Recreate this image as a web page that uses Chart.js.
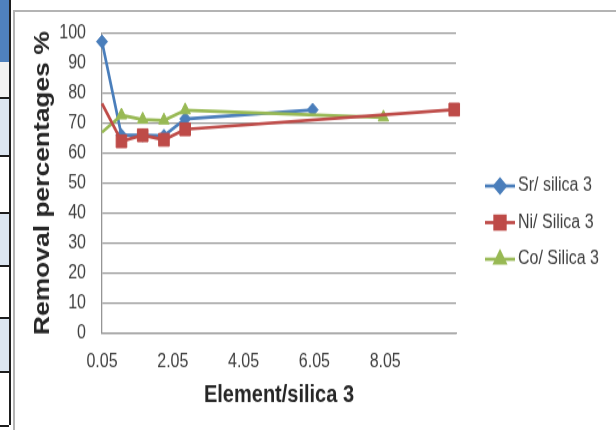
<!DOCTYPE html>
<html>
<head>
<meta charset="utf-8">
<script src="https://cdn.jsdelivr.net/npm/chart.js@4.4.1/dist/chart.umd.min.js"></script>
<style>
html, body { margin: 0; padding: 0; background: #fff; }
body { width: 616px; height: 430px; position: relative; overflow: hidden; font-family: "Liberation Sans", Arial, sans-serif; }
.strip { position: absolute; left: 0; width: 9px; border-right: 2px solid #1e1e1e; }
.row { position: absolute; left: 0; width: 9px; border-top: 2px solid #1e1e1e; }
#frame { position: absolute; left: 13px; top: 10px; right: -4px; bottom: -4px; border-left: 2px solid #b4b4b4; border-top: 2px solid #b4b4b4; }
#wrap { position: absolute; left: 0; top: 0; width: 616px; height: 358px; transform: scaleY(1.2); transform-origin: 0 0; }
</style>
</head>
<body>

<!-- bit of the spreadsheet showing on the left -->
<div class="strip" style="top:0;height:62px;background:#4f81bd;"></div>
<div class="strip" style="top:62px;height:35px;background:#f2f2f2;"></div>
<div class="row" style="top:97px;height:58px;background:#dce6f1;"></div>
<div class="row" style="top:155px;height:57px;background:#fff;"></div>
<div class="row" style="top:212px;height:53px;background:#dce6f1;"></div>
<div class="row" style="top:265px;height:52px;background:#fff;"></div>
<div class="row" style="top:317px;height:54px;background:#dce6f1;"></div>
<div class="row" style="top:371px;height:52px;background:#fff;border-bottom:2px solid #1e1e1e;"></div>
<div class="strip" style="top:97px;height:328px;background:transparent;"></div>

<div id="frame"></div>

<div id="wrap">
    <canvas id="removalChart"></canvas>
</div>

<script>
// ============================
// DATA
// ============================

const seriesNames = ['Sr/ silica 3', 'Ni/ Silica 3', 'Co/ Silica 3'];

const srX = [0.05, 0.6, 1.2, 1.8, 2.4, 6];
const srY = [97.3, 66, 66, 65.8, 71.5, 74.5];

const niX = [0.05, 0.6, 1.2, 1.8, 2.4, 10];
const niY = [76.6, 64, 66, 64.5, 68, 74.6];

const coX = [0.05, 0.6, 1.2, 1.8, 2.4, 8];
const coY = [67, 72.7, 71.3, 71, 74.4, 72];

const xTickLabels = [0.05, 2.05, 4.05, 6.05, 8.05];

const colors = ['#4a7ebb', '#be4b48', '#98b954'];

const toPoints = (xs, ys) => xs.map((x, i) => ({ x: x, y: ys[i] }));

const font = '"Liberation Sans", Arial, sans-serif';


// ============================
// LEGEND (right side)
// ============================

const sideLegend = {

    id: 'sideLegend',

    afterDraw(chart) {

        const ctx = chart.ctx;

        chart.data.datasets.forEach((ds, i) => {

            const y = 155 + i * 30.5;

            ctx.save();
            ctx.strokeStyle = ds.borderColor;
            ctx.fillStyle = ds.borderColor;
            ctx.lineWidth = 2.75;
            ctx.beginPath();
            ctx.moveTo(485, y);
            ctx.lineTo(515, y);
            ctx.stroke();

            Chart.helpers.drawPoint(ctx, {
                pointStyle: ds.pointStyle,
                radius: ds.pointRadius[1],
                rotation: 0,
                borderWidth: 1
            }, 500, y);

            ctx.fillStyle = '#404040';
            ctx.font = '16px ' + font;
            ctx.textBaseline = 'middle';
            ctx.textAlign = 'left';
            ctx.fillText(seriesNames[i], 518, y);
            ctx.restore();

        });

    }

};


// ============================
// CHART
// ============================

const ctx = document.getElementById('removalChart');

new Chart(ctx, {

    type: 'scatter',

    data: {

        datasets: [{

            label: seriesNames[0],
            data: toPoints(srX, srY),
            borderColor: colors[0],
            backgroundColor: colors[0],
            pointStyle: 'rectRot',
            pointRadius: [5.5, 5.5, 5.5, 5.5, 5.5, 5.5],
            order: 2

        }, {

            label: seriesNames[1],
            data: toPoints(niX, niY),
            borderColor: colors[1],
            backgroundColor: colors[1],
            pointStyle: 'rect',
            pointRadius: [0, 7.5, 7.5, 7.5, 7.5, 7.5],
            order: 0

        }, {

            label: seriesNames[2],
            data: toPoints(coX, coY),
            borderColor: colors[2],
            backgroundColor: colors[2],
            pointStyle: 'triangle',
            pointRadius: [0, 6, 6, 6, 6, 6],
            order: 1

        }].map(ds => Object.assign(ds, {
            showLine: true,
            borderWidth: 2.75,
            tension: 0,
            clip: false,
            pointBorderWidth: 1
        }))

    },

    options: {

        responsive: true,
        maintainAspectRatio: false,
        animation: false,

        layout: {
            padding: { left: 30, right: 160, top: 28, bottom: 0 }
        },

        plugins: {
            legend: { display: false },
            tooltip: { enabled: false }
        },

        scales: {

            x: {
                type: 'linear',
                min: 0.05,
                max: 10.05,
                afterBuildTicks: s => { s.ticks = xTickLabels.map(v => ({ value: v })); },
                afterFit: s => { s.height = 80.8; },
                grid: { display: false },
                border: { display: true, color: '#969696', width: 1.3 },
                ticks: {
                    padding: 7,
                    maxRotation: 0,
                    autoSkip: false,
                    color: '#404040',
                    font: { family: font, size: 16 },
                    callback: v => Number(v).toFixed(2)
                },
                title: {
                    display: true,
                    text: 'Element/silica 3',
                    color: '#262626',
                    padding: { top: 0, bottom: 17 },
                    font: { family: font, size: 20, weight: 'bold' }
                }
            },

            y: {
                min: 0,
                max: 100,
                afterFit: s => { s.width = 72; },
                grid: { color: '#969696', lineWidth: 1.3, drawTicks: false },
                border: { display: true, color: '#969696', width: 1.3 },
                ticks: {
                    stepSize: 10,
                    padding: 16,
                    color: '#404040',
                    font: { family: font, size: 16 }
                },
                title: {
                    display: true,
                    text: 'Removal percentages %',
                    color: '#262626',
                    padding: { top: 0, bottom: 0 },
                    font: { family: font, size: 22, weight: 'bold' }
                }
            }

        }

    },

    plugins: [sideLegend]

});
</script>
</body>
</html>
